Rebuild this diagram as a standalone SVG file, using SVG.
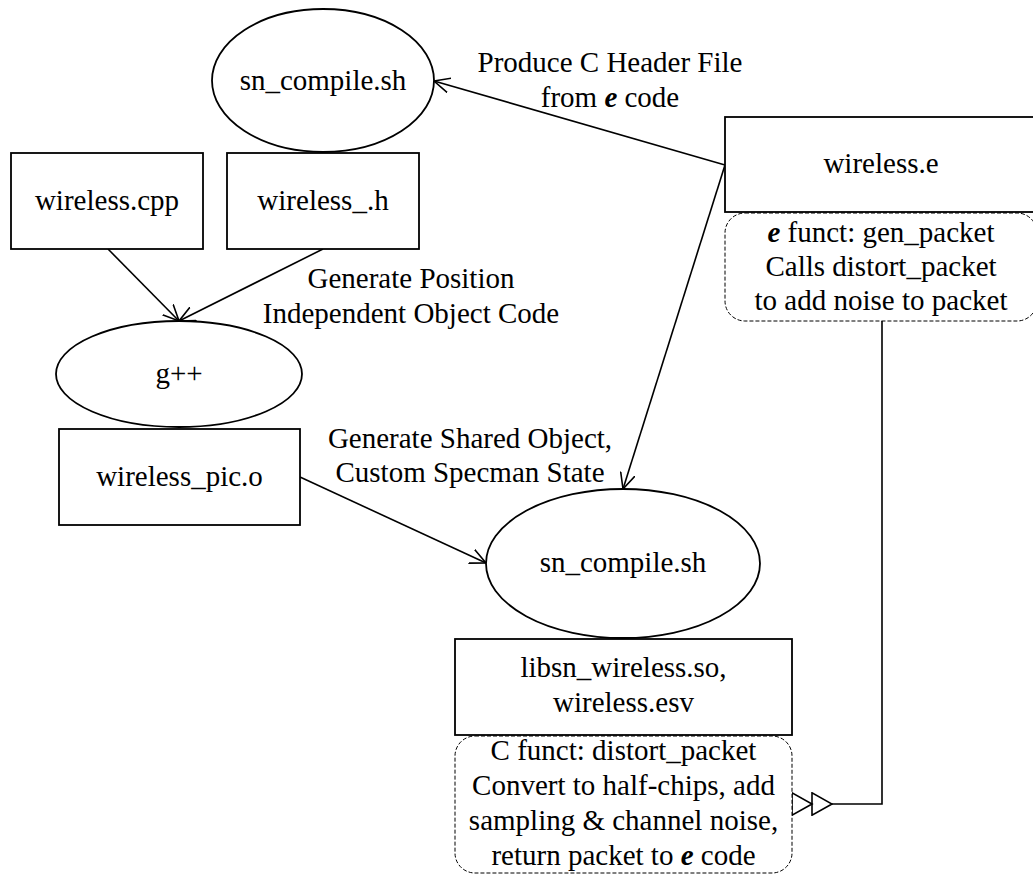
<svg xmlns="http://www.w3.org/2000/svg" width="1033" height="874" viewBox="0 0 1033 874" font-family="'Liberation Serif', 'Times New Roman', Tinos, 'DejaVu Serif', serif">
  <style>
    .shape { fill: #ffffff; stroke: #000000; stroke-width: 1.8; }
    .note { fill: #ffffff; stroke: #000000; stroke-width: 1; stroke-dasharray: 4 2; }
    .edge { fill: none; stroke: #000000; stroke-width: 1.6; }
    text { font-family: 'Liberation Serif', 'Times New Roman', Tinos, 'DejaVu Serif', serif; font-size: 29px; fill: #000000; text-anchor: middle; }
    .em { font-weight: bold; font-style: italic; }
  </style>
  <defs>
    <marker id="open" viewBox="0 0 16 16" refX="16" refY="8" markerWidth="16" markerHeight="16" orient="auto" markerUnits="userSpaceOnUse">
      <path d="M0,0.5 L16,8 L0,15.5" fill="none" stroke="#000000" stroke-width="1.6"/>
    </marker>
    <marker id="double" viewBox="0 0 42 24" refX="41" refY="12" markerWidth="42" markerHeight="24" orient="auto" markerUnits="userSpaceOnUse">
      <path d="M1,12 L21,0.8 L21,23.2 Z" fill="#ffffff" stroke="#000000" stroke-width="1.6"/>
      <path d="M21,12 L41,0.8 L41,23.2 Z" fill="#ffffff" stroke="#000000" stroke-width="1.6"/>
    </marker>
  </defs>

  <!-- connectors -->
  <g id="connectors">
    <line class="edge" x1="725" y1="165" x2="434" y2="81" marker-end="url(#open)"/>
    <line class="edge" x1="725" y1="165" x2="623" y2="489" marker-end="url(#open)"/>
    <line class="edge" x1="108" y1="249" x2="179" y2="321" marker-end="url(#open)"/>
    <line class="edge" x1="323" y1="249" x2="179" y2="321" marker-end="url(#open)"/>
    <line class="edge" x1="300" y1="477" x2="486" y2="563" marker-end="url(#open)"/>
    <path class="edge" d="M882,321 L882,804 L792,804" marker-end="url(#double)"/>
  </g>

  <!-- connector labels -->
  <g id="labels">
    <text x="610" y="72">Produce C Header File</text>
    <text x="610" y="107">from <tspan class="em">e</tspan> code</text>
    <text x="411" y="288">Generate Position</text>
    <text x="411" y="323">Independent Object Code</text>
    <text x="470" y="448">Generate Shared Object,</text>
    <text x="470" y="482">Custom Specman State</text>
  </g>

  <g id="sn_compile_top">
    <ellipse class="shape" cx="323" cy="80.5" rx="111" ry="71.5"/>
    <text x="323" y="90">sn_compile.sh</text>
  </g>

  <g id="wireless_cpp">
    <rect class="shape" x="11" y="153" width="192" height="96"/>
    <text x="107" y="210">wireless.cpp</text>
  </g>

  <g id="wireless_h">
    <rect class="shape" x="227" y="153" width="192" height="96"/>
    <text x="323" y="210">wireless_.h</text>
  </g>

  <g id="gpp">
    <ellipse class="shape" cx="179" cy="374" rx="123" ry="53"/>
    <text x="179" y="383">g++</text>
  </g>

  <g id="wireless_pic_o">
    <rect class="shape" x="59" y="429" width="241" height="96"/>
    <text x="179.5" y="486">wireless_pic.o</text>
  </g>

  <g id="wireless_e">
    <rect class="shape" x="725" y="117" width="314" height="95"/>
    <text x="881" y="173">wireless.e</text>
  </g>

  <g id="gen_packet_note">
    <rect class="note" x="725" y="213" width="312" height="108" rx="20" ry="20"/>
    <text x="881" y="242"><tspan class="em">e</tspan> funct: gen_packet</text>
    <text x="881" y="276">Calls distort_packet</text>
    <text x="881" y="310">to add noise to packet</text>
  </g>

  <g id="sn_compile_bottom">
    <ellipse class="shape" cx="623" cy="563.5" rx="137" ry="74.5"/>
    <text x="623" y="572">sn_compile.sh</text>
  </g>

  <g id="libsn_wireless">
    <rect class="shape" x="455" y="639" width="337" height="96"/>
    <text x="623.5" y="677">libsn_wireless.so,</text>
    <text x="623.5" y="712">wireless.esv</text>
  </g>

  <g id="distort_packet_note">
    <rect class="note" x="455" y="736" width="337" height="137" rx="20" ry="20"/>
    <text x="623.5" y="760">C funct: distort_packet</text>
    <text x="623.5" y="795">Convert to half-chips, add</text>
    <text x="623.5" y="830">sampling &amp; channel noise,</text>
    <text x="623.5" y="865">return packet to <tspan class="em">e</tspan> code</text>
  </g>
</svg>
